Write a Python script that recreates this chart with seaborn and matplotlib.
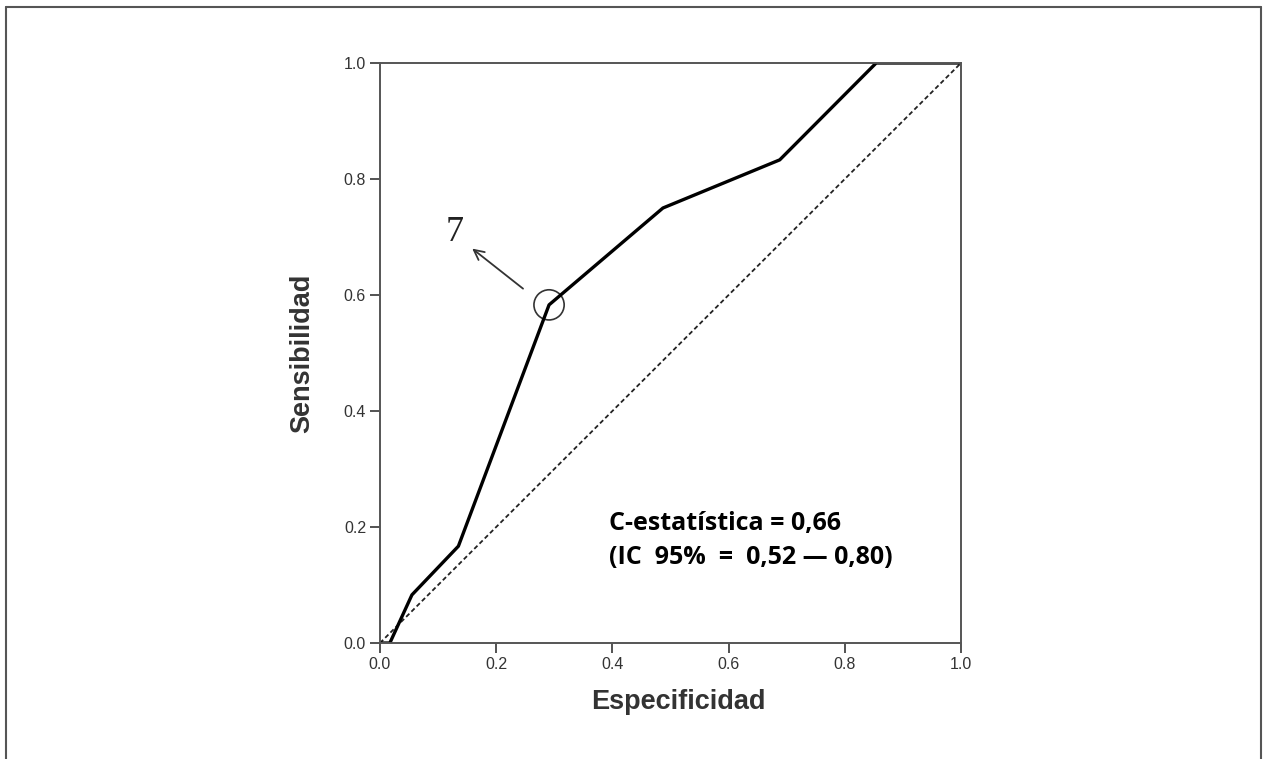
import seaborn as sns
import matplotlib.pyplot as plt
import pandas as pd
from matplotlib.lines import Line2D
from matplotlib.patches import Circle

# ROC curve points
especificidad = [0.0, 0.017, 0.055, 0.135, 0.291, 0.487, 0.688, 0.854, 1.0]
sensibilidad = [0.0, 0.0, 0.083, 0.167, 0.583, 0.75, 0.833, 1.0, 1.0]
ref_x = [0.0, 1.0]
ref_y = [0.0, 1.0]
ticks = [0.0, 0.2, 0.4, 0.6, 0.8, 1.0]
tick_labels = ['0.0', '0.2', '0.4', '0.6', '0.8', '1.0']
corte = (0.291, 0.583)
corte_label = '7'

df = pd.DataFrame({'Especificidad': especificidad, 'Sensibilidad': sensibilidad})
ref = pd.DataFrame({'x': ref_x, 'y': ref_y})

sns.set_style('white')
plt.rcParams['font.family'] = ['Liberation Sans', 'DejaVu Sans']

fig = plt.figure(figsize=(12.64, 7.59), dpi=100)
ax = fig.add_axes([0.3006, 0.1528, 0.4597, 0.7642])

sns.lineplot(data=ref, x='x', y='y', ax=ax, color='#222222', lw=1.3,
             linestyle=(0, (2.5, 1.6)))
sns.lineplot(data=df, x='Especificidad', y='Sensibilidad', ax=ax,
             color='black', lw=2.4)

ax.set_xlim(0, 1)
ax.set_ylim(0, 1)
ax.set_xticks(ticks)
ax.set_xticklabels(tick_labels)
ax.set_yticks(ticks)
ax.set_yticklabels(tick_labels)
ax.tick_params(axis='both', direction='out', length=7, width=1.3,
               color='#444444', labelsize=11.5, labelcolor='#333333', pad=3)
ax.tick_params(axis='x', bottom=True)
ax.tick_params(axis='y', left=True)
for s in ax.spines.values():
    s.set_color('#555555')
    s.set_linewidth(1.4)

ax.set_xlabel('Especificidad', fontsize=19.5, fontweight='bold', color='#333333', va='center')
ax.set_ylabel('Sensibilidad', fontsize=19.5, fontweight='bold', color='#333333', va='center')
ax.xaxis.set_label_coords(0.513, -0.102)
ax.yaxis.set_label_coords(-0.133, 0.5)

# cut-off marker
ax.add_patch(Circle(corte, radius=0.026, fill=False, ec='#333333', lw=1.2,
                    transform=ax.transData))
ax.annotate('', xy=(0.155, 0.683), xytext=(0.25, 0.608),
            arrowprops=dict(arrowstyle='->', color='#333333', lw=1.3, mutation_scale=18))
ax.text(0.113, 0.68, corte_label, fontsize=26, family='Liberation Serif',
        color='#222222', ha='left', va='bottom')

ax.text(0.395, 0.126, 'C-estatística = 0,66\n(IC  95%  =  0,52 — 0,80)',
        fontsize=18, fontweight='bold', family=['Open Sans', 'DejaVu Sans'],
        color='black', ha='left', va='bottom', linespacing=1.45)

# outer frame (open at the bottom)
fx0, fx1, fy1 = 6 / 1264, 1261 / 1264, 1 - 7 / 759
for xs, ys in [([fx0, fx0], [0, fy1]), ([fx0, fx1], [fy1, fy1]), ([fx1, fx1], [fy1, 0])]:
    fig.add_artist(Line2D(xs, ys, color='#555555', lw=1.5, transform=fig.transFigure))

fig.savefig('out.png', dpi=100)
